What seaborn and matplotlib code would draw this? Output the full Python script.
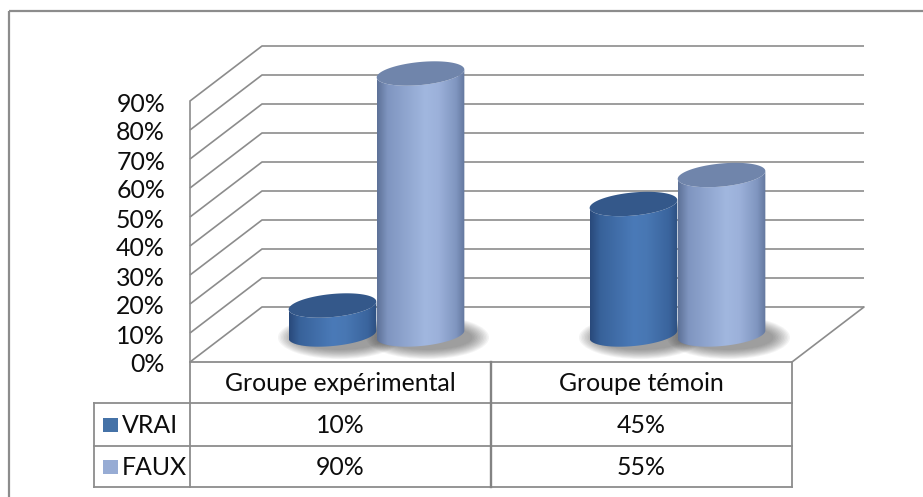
import numpy as np
import pandas as pd
import matplotlib
matplotlib.use("Agg")
import matplotlib.pyplot as plt
import matplotlib.transforms as mtransforms
from matplotlib.patches import Polygon, Ellipse, Rectangle
from matplotlib.colors import to_rgb
import seaborn as sns

# ---- data -------------------------------------------------------------
groupes = ["Groupe expérimental", "Groupe témoin"]
reponses = ["VRAI", "FAUX"]
vrai = [0.10, 0.45]
faux = [0.90, 0.55]
graduations = [0.0, 0.1, 0.2, 0.3, 0.4, 0.5, 0.6, 0.7, 0.8, 0.9]
etiquettes = [f"{round(v * 100)}%" for v in graduations]

# ---- styles -----------------------------------------------------------
couleurs = {"VRAI": "#4572a7", "FAUX": "#97acd4"}
degrades = {
    "VRAI": [(0.0, "#29497a"), (0.12, "#38629a"), (0.5, "#4a7ab8"),
             (0.65, "#4877b3"), (0.9, "#3a649d"), (1.0, "#2c4f80")],
    "FAUX": [(0.0, "#5d7197"), (0.12, "#7f95c0"), (0.55, "#a1b7df"),
             (0.7, "#9cb1da"), (0.9, "#8096c0"), (1.0, "#63779d")],
}
dessus = {"VRAI": "#34588a", "FAUX": "#7085ab"}
GRIS = "#8c8c8c"
TEXTE = "#0d0d0d"

W, H, DPI = 923, 497, 100
FLOOR_L, FLOOR_R, FLOOR_Y = 190, 792, 362   # front edge of the floor (px)
PX_Y = 290                                  # px for 100 %
DEPTH = (72, 55)                            # depth vector of the box (px)
ELL_B = 11.5                                # half height of cylinder caps (px)
TILT = np.deg2rad(5.5)

sns.set_theme(style="white")
plt.rcParams["font.family"] = ["Lato", "DejaVu Sans"]
FS = 17.9

fig = plt.figure(figsize=(W / DPI, H / DPI), dpi=DPI)
fig.patch.set_facecolor("white")
ax = fig.add_axes([0, 0, 1, 1])

df = pd.DataFrame({
    "groupe": groupes * 2,
    "réponse": [reponses[0]] * len(groupes) + [reponses[1]] * len(groupes),
    "valeur": vrai + faux,
})
sns.barplot(data=df, x="groupe", y="valeur", hue="réponse", order=groupes,
            hue_order=reponses, palette=couleurs, width=0.585, errorbar=None,
            legend=False, ax=ax)

sx = (FLOOR_R - FLOOR_L) / len(groupes)
base = H - FLOOR_Y
sy = PX_Y
ax.axis("off")

# flat bars from seaborn become cylinders
barres = []
for cont, lab in zip(ax.containers, reponses):
    for rect in cont:
        barres.append((lab, rect.get_x(), rect.get_width(), rect.get_height()))
        rect.set_visible(False)
barres.sort(key=lambda b: b[1])

ddx, ddy = DEPTH[0] / sx, DEPTH[1] / sy
x0, x1 = -0.5, len(groupes) - 0.5

# ---- walls and floor ---------------------------------------------------
for v in graduations:
    ax.plot([x0, x0 + ddx, x1 + ddx], [v, v + ddy, v + ddy], color=GRIS,
            lw=1.2, zorder=1, solid_capstyle="butt")
ax.plot([x0, x0], [0, graduations[-1]], color=GRIS, lw=1.2, zorder=1)
ax.plot([x1, x1 + ddx], [0, ddy], color=GRIS, lw=1.2, zorder=1)

# ---- cylinders ---------------------------------------------------------
def ellipse(cx, cy, a_px, phis):
    dxp = a_px * np.cos(phis) * np.cos(TILT) - ELL_B * np.sin(phis) * np.sin(TILT)
    dyp = a_px * np.cos(phis) * np.sin(TILT) + ELL_B * np.sin(phis) * np.cos(TILT)
    return np.column_stack([cx + dxp / sx, cy + dyp / sy])


def degrade(stops, n=256):
    pos = np.linspace(0, 1, n)
    xs = [s[0] for s in stops]
    cols = np.array([to_rgb(s[1]) for s in stops])
    return np.stack([np.interp(pos, xs, cols[:, k]) for k in range(3)], axis=-1)[None, :, :]


# soft floor shadows
for lab, x, w, h in barres:
    cx = x + w / 2 + ddx / 2
    cy = ddy / 2
    a_px = w / 2 * sx
    for k in range(12):
        grow = k * 1.5
        ax.add_patch(Ellipse((cx + 7 / sx, cy - 3 / sy),
                             2 * (a_px + 1 + grow) / sx,
                             2 * (ELL_B + 1 + grow * 0.55) / sy,
                             facecolor="#3a3a3a", edgecolor="none",
                             alpha=0.05, zorder=2))

for i, (lab, x, w, h) in enumerate(barres):
    cx = x + w / 2 + ddx / 2
    y_bas = ddy / 2
    y_haut = h + ddy / 2
    a_px = w / 2 * sx
    z = 3 + i * 0.1
    bas = ellipse(cx, y_bas, a_px, np.linspace(np.pi, 2 * np.pi, 80))
    haut = ellipse(cx, y_haut, a_px, np.linspace(2 * np.pi, np.pi, 80))
    corps = Polygon(np.vstack([bas, haut]), closed=True, transform=ax.transData)
    pts = np.vstack([bas, haut])
    im = ax.imshow(degrade(degrades[lab]), extent=[pts[:, 0].min(), pts[:, 0].max(),
                                                  pts[:, 1].min(), pts[:, 1].max()],
                   aspect="auto", interpolation="bilinear", zorder=z)
    im.set_clip_path(corps)
    cap = ellipse(cx, y_haut, a_px, np.linspace(0, 2 * np.pi, 160))
    ax.add_patch(Polygon(cap, closed=True, facecolor=dessus[lab],
                         edgecolor="none", zorder=z + 0.01))

ax.set_xlim(-0.5 - FLOOR_L / sx, -0.5 + (W - FLOOR_L) / sx)
ax.set_ylim(-base / PX_Y, (H - base) / PX_Y)

# ---- pixel helpers for the chrome -------------------------------------
pix = mtransforms.Affine2D().scale(1, -1).translate(0, H)
def col_px(xd):
    return ax.transData.transform((xd, 0))[0]

# y tick labels
lab_tr = mtransforms.blended_transform_factory(pix, ax.transData) + \
    mtransforms.Affine2D().translate(0, -3)
for v, t in zip(graduations, etiquettes):
    ax.text(165, v, t, transform=lab_tr, ha="right", va="center",
            fontsize=FS, color=TEXTE)

# data table
ROWS = [FLOOR_Y, 403, 446, 487]
T_LEFT = 94
bords = [col_px(x0 + k) for k in range(len(groupes) + 1)]
def seg(xa, ya, xb, yb, lw=1.3, c=GRIS):
    ax.plot([xa, xb], [ya, yb], transform=pix, color=c, lw=lw,
            solid_capstyle="projecting", zorder=5)

seg(bords[0], ROWS[0], bords[-1], ROWS[0])
for yr in ROWS[1:]:
    seg(T_LEFT, yr, bords[-1], yr)
seg(T_LEFT, ROWS[1], T_LEFT, ROWS[-1])
for k, bx in enumerate(bords):
    if 0 < k < len(bords) - 1:
        seg(bx, ROWS[0], bx, ROWS[-1], lw=1.7, c="#838383")
    else:
        seg(bx, ROWS[0], bx, ROWS[-1])

for k, g in enumerate(groupes):
    xc = col_px(k)
    ax.text(xc, (ROWS[0] + ROWS[1]) / 2 + 1, g, transform=pix, ha="center",
            va="center", fontsize=FS, color=TEXTE)
    for r, serie in enumerate([vrai, faux]):
        ax.text(xc, (ROWS[r + 1] + ROWS[r + 2]) / 2 + 1, f"{round(serie[k] * 100)}%",
                transform=pix, ha="center", va="center", fontsize=FS,
                color=TEXTE)

for r, lab in enumerate(reponses):
    ym = (ROWS[r + 1] + ROWS[r + 2]) / 2
    ax.add_patch(Rectangle((103, ym - 7), 15, 14, transform=pix,
                           facecolor=couleurs[lab], edgecolor="none", zorder=5))
    ax.text(122, ym + 1, lab, transform=pix, ha="left", va="center",
            fontsize=FS, color=TEXTE)

# outer frame of the chart area
ax.add_patch(Rectangle((9, 11), W, H, transform=pix, facecolor="none",
                       edgecolor=GRIS, lw=1.6, zorder=6, clip_on=False))

fig.savefig("out.png", dpi=DPI, facecolor="white")
